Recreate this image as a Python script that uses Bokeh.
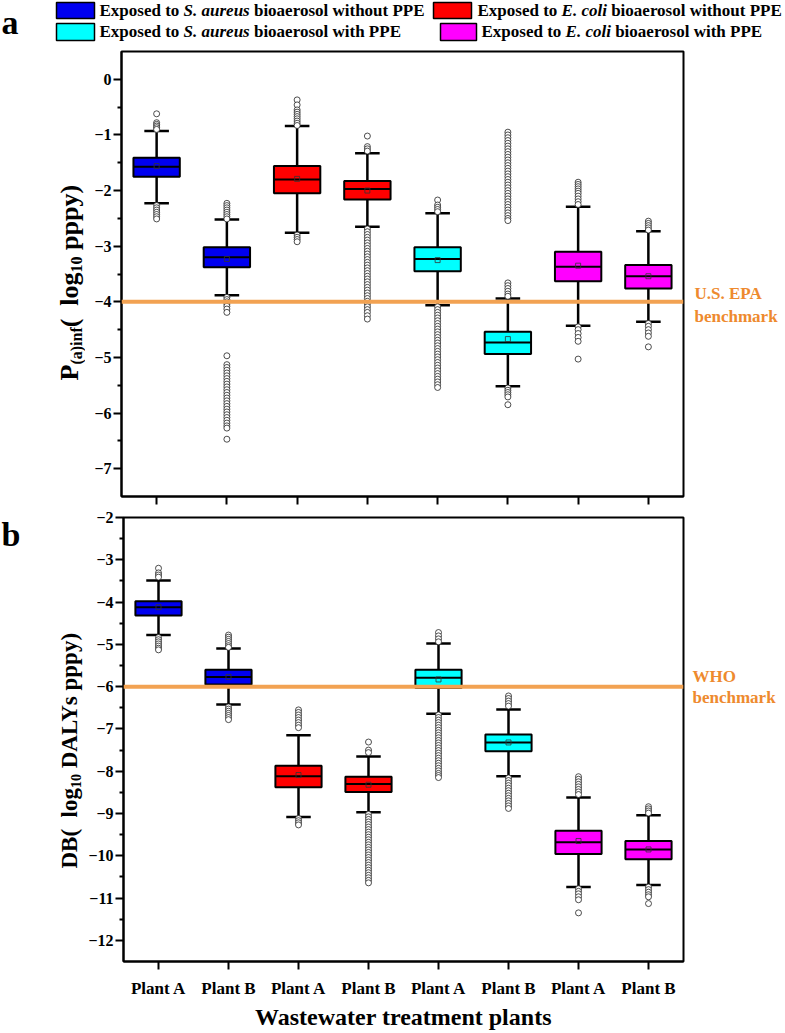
from math import pi
from bokeh.plotting import figure
from bokeh.models import Span, Label, BoxAnnotation, FixedTicker
from bokeh.layouts import column, row
from bokeh.embed import file_html
from bokeh.resources import INLINE

# ---------------- data ----------------
categories = ["Plant A", "Plant B", "Plant A", "Plant B", "Plant A", "Plant B", "Plant A", "Plant B"]
box_colors = ["#0000F0", "#0000F0", "#FF0000", "#FF0000", "#00FFFF", "#00FFFF", "#FF00FF", "#FF00FF"]

legend_pieces = [
    ("Exposed to ", "S. aureus", " bioaerosol without PPE"),
    ("Exposed to ", "E. coli", " bioaerosol without PPE"),
    ("Exposed to ", "S. aureus", " bioaerosol with PPE"),
    ("Exposed to ", "E. coli", " bioaerosol with PPE"),
]
legend_colors = ["#0000F0", "#FF0000", "#00FFFF", "#FF00FF"]

x_title = "Wastewater treatment plants"

# panel a : P(a)inf (log10 pppy)
a_q1 = [-1.75, -3.38, -2.05, -2.16, -3.45, -4.94, -3.63, -3.76]
a_q3 = [-1.41, -3.02, -1.56, -1.83, -3.02, -4.54, -3.10, -3.34]
a_med = [-1.57, -3.20, -1.80, -1.97, -3.23, -4.73, -3.37, -3.54]
a_mean = [-1.56, -3.23, -1.79, -2.00, -3.25, -4.67, -3.35, -3.54]
a_lo = [-2.23, -3.88, -2.76, -2.65, -4.06, -5.52, -4.43, -4.36]
a_hi = [-0.93, -2.52, -0.84, -1.33, -2.41, -3.94, -2.29, -2.73]
a_out = [
    [-0.62, -0.78, -0.81, -0.84, -0.87, -0.90, -2.27, -2.31, -2.35, -2.39, -2.43, -2.47, -2.51],
    [-2.23, -2.27, -2.31, -2.35, -2.39, -2.43, -2.47, -2.51, -3.92, -3.96, -4.00, -4.04, -4.08,
     -4.13, -4.19, -4.97, -5.13, -5.18, -5.23, -5.28, -5.33, -5.38, -5.43, -5.48, -5.53, -5.58,
     -5.63, -5.68, -5.73, -5.78, -5.83, -5.88, -5.93, -5.98, -6.03, -6.08, -6.13, -6.18, -6.23,
     -6.27, -6.47],
    [-0.37, -0.46, -0.55, -0.59, -0.63, -0.67, -0.71, -0.75, -0.79, -0.83, -2.80, -2.84, -2.88, -2.92],
    [-1.02, -1.21, -1.25, -1.29, -2.69, -2.74, -2.79, -2.84, -2.89, -2.94, -2.99, -3.04, -3.09,
     -3.14, -3.19, -3.24, -3.29, -3.34, -3.39, -3.44, -3.49, -3.54, -3.59, -3.64, -3.69, -3.74,
     -3.79, -3.84, -3.89, -3.94, -3.99, -4.04, -4.09, -4.14, -4.19, -4.25, -4.31],
    [-2.17, -2.26, -2.30, -2.34, -2.38, -4.09, -4.14, -4.19, -4.24, -4.29, -4.34, -4.39, -4.44,
     -4.49, -4.54, -4.59, -4.64, -4.69, -4.74, -4.79, -4.84, -4.89, -4.94, -4.99, -5.04, -5.09,
     -5.14, -5.19, -5.24, -5.29, -5.34, -5.39, -5.44, -5.49, -5.54],
    [-0.95, -1.00, -1.05, -1.10, -1.15, -1.20, -1.25, -1.30, -1.35, -1.40, -1.45, -1.50, -1.55,
     -1.60, -1.65, -1.70, -1.75, -1.80, -1.85, -1.90, -1.95, -2.00, -2.05, -2.10, -2.15, -2.20,
     -2.25, -2.30, -2.35, -2.40, -2.45, -2.50, -2.54, -3.66, -3.71, -3.76, -3.81, -3.86, -3.90,
     -5.55, -5.59, -5.63, -5.67, -5.71, -5.85],
    [-1.85, -1.89, -1.93, -1.97, -2.01, -2.05, -2.10, -2.15, -2.20, -2.25, -4.45, -4.50, -4.57,
     -4.64, -4.71, -5.03],
    [-2.55, -2.59, -2.63, -2.67, -2.71, -4.39, -4.44, -4.50, -4.56, -4.62, -4.81],
]

# panel b : DB (log10 DALYs pppy)
b_q1 = [-4.32, -5.95, -8.38, -8.49, -6.03, -7.53, -9.96, -10.08]
b_q3 = [-3.98, -5.60, -7.87, -8.13, -5.60, -7.13, -9.41, -9.65]
b_med = [-4.12, -5.77, -8.12, -8.30, -5.79, -7.32, -9.68, -9.85]
b_mean = [-4.12, -5.77, -8.09, -8.32, -5.83, -7.32, -9.65, -9.85]
b_lo = [-4.78, -6.42, -9.08, -8.97, -6.64, -8.12, -10.74, -10.69]
b_hi = [-3.49, -5.10, -7.15, -7.65, -4.98, -6.54, -8.62, -9.04]
b_out = [
    [-3.20, -3.31, -3.36, -3.41, -4.84, -4.89, -4.94, -4.99, -5.04, -5.09, -5.13],
    [-4.78, -4.83, -4.88, -4.93, -4.98, -5.03, -5.07, -6.48, -6.53, -6.58, -6.63, -6.68, -6.73, -6.78],
    [-6.55, -6.61, -6.67, -6.73, -6.79, -6.85, -6.91, -6.97, -9.12, -9.17, -9.22, -9.27],
    [-7.31, -7.50, -7.56, -9.02, -9.08, -9.14, -9.20, -9.26, -9.32, -9.38, -9.44, -9.50, -9.56,
     -9.62, -9.68, -9.74, -9.80, -9.86, -9.92, -9.98, -10.04, -10.10, -10.16, -10.22, -10.28,
     -10.34, -10.40, -10.46, -10.52, -10.58, -10.64],
    [-4.72, -4.80, -4.87, -4.94, -6.67, -6.73, -6.79, -6.85, -6.91, -6.97, -7.03, -7.09, -7.15,
     -7.21, -7.27, -7.33, -7.39, -7.45, -7.51, -7.57, -7.63, -7.69, -7.75, -7.81, -7.87, -7.93,
     -7.99, -8.05, -8.10, -8.15],
    [-6.22, -6.28, -6.34, -6.40, -6.46, -8.16, -8.22, -8.28, -8.34, -8.40, -8.46, -8.52, -8.58,
     -8.64, -8.70, -8.76, -8.82, -8.88],
    [-8.13, -8.19, -8.25, -8.31, -8.37, -8.43, -8.49, -8.55, -10.78, -10.84, -10.90, -10.97,
     -11.04, -11.35],
    [-8.84, -8.89, -8.94, -8.99, -10.74, -10.80, -10.86, -10.92, -10.97, -11.13],
]

# ---------------- styling helpers ----------------
FONT = "Liberation Serif"
ORANGE_LINE = "#F2A252"
ORANGE_TEXT = "#EE8A2E"
MID = 0.3375  # distance (in em) from the alphabetic baseline to the middle of the font box

TB = {' ': 250, '(': 333, ')': 333, '.': 250, '0': 500, '1': 500, 'A': 722, 'B': 667, 'D': 722,
      'E': 667, 'H': 778, 'L': 667, 'O': 778, 'P': 611, 'S': 556, 'U': 722, 'W': 1000, 'Y': 722,
      'a': 500, 'b': 556, 'c': 444, 'd': 556, 'e': 444, 'f': 333, 'g': 500, 'h': 556, 'i': 278,
      'k': 556, 'l': 278, 'm': 833, 'n': 556, 'o': 500, 'p': 556, 'r': 444, 's': 389, 't': 333,
      'u': 556, 'w': 722, 'x': 500, 'y': 500}
TBI = {' ': 250, '.': 250, 'S': 556, 'E': 667, 'a': 500, 'c': 444, 'e': 444, 'i': 278, 'l': 278,
       'o': 500, 'r': 389, 's': 389, 'u': 556}


def tw(s, size, italic=False):
    table = TBI if italic else TB
    return sum(table.get(c, 500) for c in s) * size / 1000.0


def lead(s, size, italic=False):
    n = len(s) - len(s.lstrip(" "))
    return tw(" " * n, size, italic)


def rich_h(p, x, y, pieces, color="black"):
    # y = alphabetic baseline (upward coordinates)
    for text, size, style in pieces:
        it = "italic" in style
        p.add_layout(Label(x=x + lead(text, size, it), y=y + MID * size, text=text.strip(),
                           text_font=FONT, text_font_size=f"{size}px", text_font_style=style,
                           text_color=color, text_baseline="middle", text_align="left"))
        x += tw(text, size, it)


def rich_v(p, x, y, pieces):
    # x = baseline position of the rotated text, y = start of the text (bottom end)
    for text, size, dx in pieces:
        p.add_layout(Label(x=x + dx - MID * size, y=y + lead(text, size), text=text.strip(),
                           text_font=FONT, text_font_size=f"{size}px", text_font_style="bold",
                           text_color="black", angle=pi / 2,
                           text_baseline="middle", text_align="left"))
        y += tw(text, size)


def text_fig(w, h, btop=0, bbottom=0):
    fh = h - btop - bbottom
    f = figure(width=w, height=h, x_range=(0, w), y_range=(0, fh),
               min_border_left=0, min_border_right=0, min_border_top=btop,
               min_border_bottom=bbottom,
               x_axis_location=None, y_axis_location=None, toolbar_location=None,
               output_backend="svg")
    f.outline_line_color = None
    f.grid.visible = False
    return f


xs = list(range(1, len(categories) + 1))
BOX_W = 0.66
CAP_W = 0.35

YLAB_W = 85
PLOT_W = 600
BENCH_W = 100


def make_fig(height, y_range, btop, bbottom, majors, minors):
    p = figure(width=PLOT_W, height=height, x_range=(0.5, 8.5), y_range=y_range,
               output_backend="svg", toolbar_location=None,
               min_border_left=36, min_border_right=2,
               min_border_top=btop, min_border_bottom=bbottom)
    p.grid.visible = False
    p.outline_line_color = "black"
    p.outline_line_width = 2
    p.outline_line_alpha = 1
    for ax in (p.xaxis[0], p.yaxis[0]):
        ax.axis_line_width = 2
        ax.major_tick_line_width = 2
        ax.minor_tick_line_width = 2
        ax.major_tick_in = 0
        ax.major_tick_out = 8
        ax.minor_tick_in = 0
        ax.major_label_text_font = FONT
        ax.major_label_text_font_style = "bold"
        ax.major_label_text_color = "black"
    p.yaxis.ticker = FixedTicker(ticks=majors, minor_ticks=minors)
    p.yaxis.minor_tick_out = 4
    p.yaxis.major_label_text_font_size = "16px"
    p.yaxis.major_label_standoff = 2
    p.xaxis.ticker = FixedTicker(ticks=xs)
    p.xaxis.minor_tick_out = 0
    return p


def draw_boxes(p, q1, q3, med, mean, lo, hi, outs):
    p.segment(x0=xs, x1=xs, y0=q3, y1=hi, line_color="black", line_width=2.5)
    p.segment(x0=xs, x1=xs, y0=q1, y1=lo, line_color="black", line_width=2.5)
    p.segment(x0=[x - CAP_W / 2 for x in xs], x1=[x + CAP_W / 2 for x in xs], y0=hi, y1=hi,
              line_color="black", line_width=2.5)
    p.segment(x0=[x - CAP_W / 2 for x in xs], x1=[x + CAP_W / 2 for x in xs], y0=lo, y1=lo,
              line_color="black", line_width=2.5)
    p.vbar(x=xs, width=BOX_W, top=q3, bottom=q1, fill_color=box_colors, line_color="black",
           line_width=2)
    p.segment(x0=[x - BOX_W / 2 for x in xs], x1=[x + BOX_W / 2 for x in xs], y0=med, y1=med,
              line_color="black", line_width=2)
    p.scatter(x=xs, y=mean, marker="square", size=5, fill_alpha=0, line_color="#333333",
              line_width=0.8)
    ox, oy = [], []
    for x, vals in zip(xs, outs):
        ox += [x] * len(vals)
        oy += vals
    p.scatter(x=ox, y=oy, marker="circle", size=6, fill_color="white", line_color="#222222",
              line_width=0.8)


TOTAL_W = YLAB_W + PLOT_W + BENCH_W

# ---------------- legend strip (above panel a) ----------------
LEG_H = 49
leg = text_fig(TOTAL_W, LEG_H)
rich_h(leg, 1, 16, [("a", 34, "bold")])
leg_boxes = [(56, 94, 47, 31), (433, 471, 47, 31), (56, 94, 26, 9), (440, 476, 26, 9)]
leg_text = [(99, 33), (477, 33), (99, 12), (481, 12)]
for (l, r, t, b), col, (tx, ty), pieces in zip(leg_boxes, legend_colors, leg_text, legend_pieces):
    leg.add_layout(BoxAnnotation(left=l, right=r, top=t, bottom=b, fill_color=col, fill_alpha=1,
                                 line_color="black", line_width=1.5, line_alpha=1))
    rich_h(leg, tx, ty, [(pieces[0], 17, "bold"), (pieces[1], 17, "bold italic"),
                         (pieces[2], 17, "bold")])

# ---------------- panel a ----------------
HA, TA, BA = 459, 2, 12
pa = make_fig(HA, (-7.5, 0.5), TA, BA,
              [0, -1, -2, -3, -4, -5, -6, -7],
              [-0.5, -1.5, -2.5, -3.5, -4.5, -5.5, -6.5])
pa.xaxis.major_label_overrides = {x: "" for x in xs}
pa.xaxis.major_label_text_font_size = "1px"
pa.xaxis.major_label_standoff = 0
pa.add_layout(Span(location=-4, dimension="width", line_color=ORANGE_LINE, line_width=4))
draw_boxes(pa, a_q1, a_q3, a_med, a_mean, a_lo, a_hi, a_out)

# text panels share the frame of panel a (y measured upward from its frame bottom)
ylab_a = text_fig(YLAB_W, HA, TA, BA)
rich_v(ylab_a, 78, 116, [("P", 26, 0), ("(a)inf", 16, 3), ("(", 26, 0), ("  log", 26, 0),
                         ("10", 16, 3), (" pppy)", 26, 0)])

bench_a = text_fig(BENCH_W, HA, TA, BA)
rich_h(bench_a, 9, 197, [("U.S. EPA", 17, "bold")], ORANGE_TEXT)
rich_h(bench_a, 9, 174, [("benchmark", 17, "bold")], ORANGE_TEXT)

# ---------------- panel b ----------------
HB, TBD, BB = 525, 9, 72
pb = make_fig(HB, (-12.5, -2), TBD, BB,
              [-2, -3, -4, -5, -6, -7, -8, -9, -10, -11, -12],
              [-2.5, -3.5, -4.5, -5.5, -6.5, -7.5, -8.5, -9.5, -10.5, -11.5])
pb.xaxis.major_label_overrides = {x: c for x, c in zip(xs, categories)}
pb.xaxis.major_label_text_font_size = "17px"
pb.xaxis.major_label_standoff = 9
pb.xaxis.axis_label = x_title
pb.xaxis.axis_label_text_font = FONT
pb.xaxis.axis_label_text_font_size = "24px"
pb.xaxis.axis_label_text_font_style = "bold"
pb.xaxis.axis_label_text_color = "black"
pb.xaxis.axis_label_standoff = 3
pb.add_layout(Span(location=-6, dimension="width", line_color=ORANGE_LINE, line_width=4))
draw_boxes(pb, b_q1, b_q3, b_med, b_mean, b_lo, b_hi, b_out)

ylab_b = text_fig(YLAB_W, HB, TBD, BB)
rich_v(ylab_b, 77, 93, [("DB", 23, 0), ("(", 23, 0), ("  log", 23, 0), ("10", 14, 3),
                        (" DALYs pppy)", 23, 0)])
rich_h(ylab_b, 1, 416, [("b", 34, "bold")])

bench_b = text_fig(BENCH_W, HB, TBD, BB)
rich_h(bench_b, 7, 279, [("WHO", 17, "bold")], ORANGE_TEXT)
rich_h(bench_b, 7, 258, [("benchmark", 17, "bold")], ORANGE_TEXT)

layout = column(leg, row(ylab_a, pa, bench_a, spacing=0), row(ylab_b, pb, bench_b, spacing=0),
                spacing=0)
open("out.html", "w").write(file_html(layout, INLINE))
